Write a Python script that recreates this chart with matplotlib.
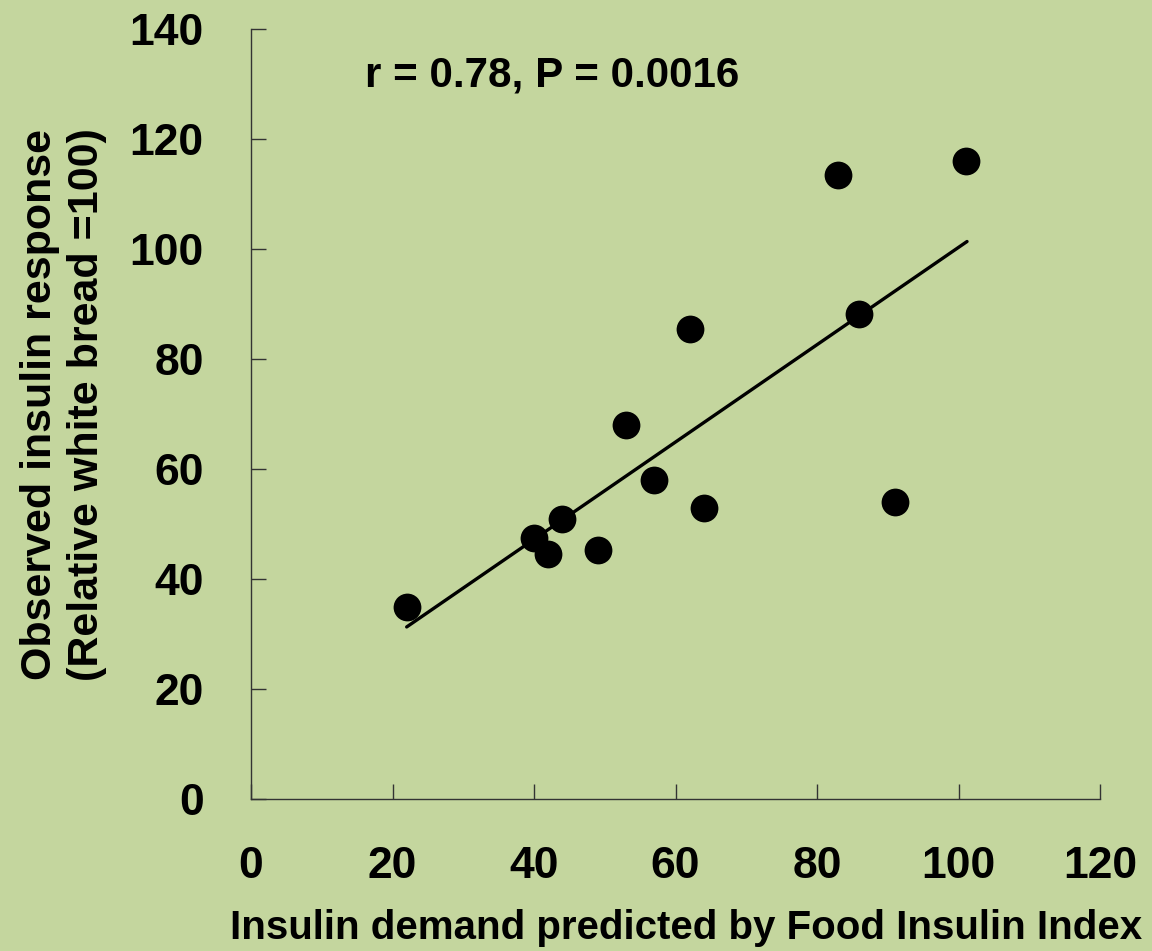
import numpy as np
import matplotlib.pyplot as plt

# data
fii_predicted = [22, 40, 42, 44, 49, 53, 57, 62, 64, 83, 86, 91, 101]
observed = [35, 47.5, 44.5, 51, 45.3, 68, 58, 85.5, 53, 113.5, 88.3, 54, 116]
fit_x = [22, 101.2]
fit_y = [31.3, 101.4]

bg = '#C4D69E'
plt.rcParams['font.family'] = ['Liberation Sans', 'DejaVu Sans']
plt.rcParams['font.weight'] = 'bold'

fig = plt.figure(figsize=(11.52, 9.51), dpi=100, facecolor=bg)
ax = fig.add_axes([0.2179, 0.1598, 0.7370, 0.8094], facecolor=bg)

ax.plot(fit_x, fit_y, color='black', lw=2.4, solid_capstyle='round')
ax.plot(fii_predicted, observed, 'o', color='black', ms=20, mec='none')

ax.set_xlim(0, 120)
ax.set_ylim(0, 140)
ax.set_xticks(np.arange(0, 121, 20))
ax.set_yticks(np.arange(0, 141, 20))

for s in ['top', 'right']:
    ax.spines[s].set_visible(False)
for s in ['left', 'bottom']:
    ax.spines[s].set_color('#333333')
    ax.spines[s].set_linewidth(1.0)

ax.tick_params(axis='both', direction='in', length=11, width=1.0, color='#333333',
               labelsize=32, pad=34)
for lab in ax.get_xticklabels() + ax.get_yticklabels():
    lab.set_fontweight('bold')

ax.set_xlabel('Insulin demand predicted by Food Insulin Index', fontsize=29,
              fontweight='bold', labelpad=16, x=0.512)
ax.set_ylabel('Observed insulin response\n(Relative white bread =100)', fontsize=31,
              fontweight='bold', labelpad=16, linespacing=1.25, y=0.513)

ax.text(16.1, 131.6, 'r = 0.78, P = 0.0016', fontsize=30.3, fontweight='bold',
        va='center', ha='left')

fig.savefig('out.png', dpi=100, facecolor=bg)
